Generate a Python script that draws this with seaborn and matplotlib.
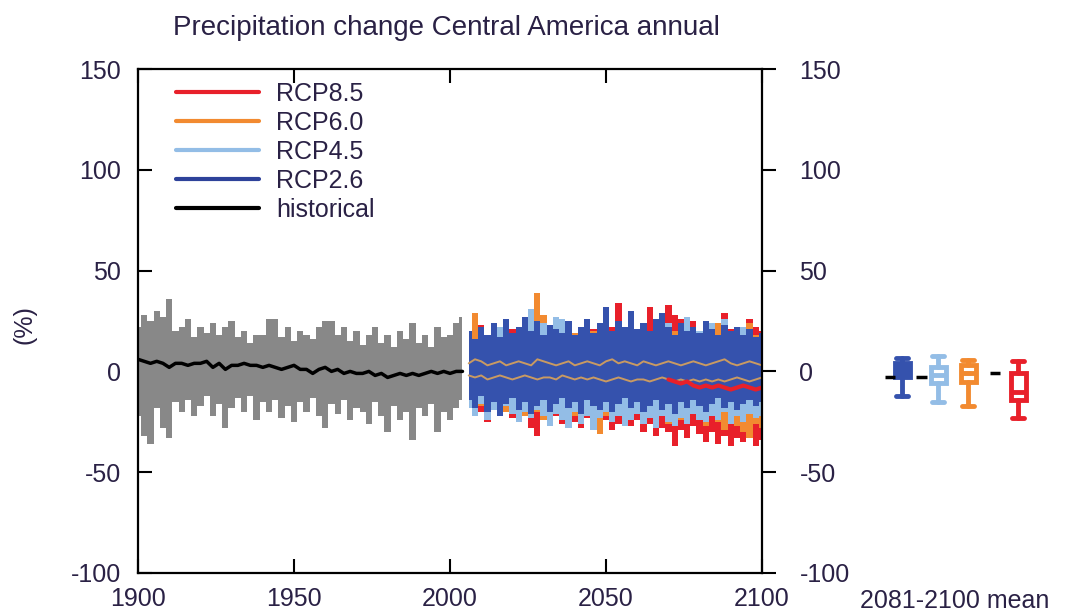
import numpy as np
import matplotlib
matplotlib.use("Agg")
import matplotlib.pyplot as plt
from matplotlib.lines import Line2D
import seaborn as sns

# ── DATA ──────────────────────────────────────────────────────────────────────
hist_years = list(range(1900, 2005, 2))
hist_upper = [22, 28, 25, 30, 27, 36, 20, 22, 26, 17, 22, 19, 24, 18, 22, 25, 17, 20,
              14, 18, 18, 26, 26, 17, 22, 15, 20, 18, 16, 22, 25, 25, 18, 22, 15, 20,
              13, 18, 22, 14, 18, 12, 20, 16, 24, 14, 18, 12, 22, 17, 18, 24, 27]
hist_lower = [-22, -32, -36, -18, -28, -33, -15, -20, -14, -22, -17, -12, -22, -16, -28,
              -18, -13, -20, -12, -24, -15, -20, -14, -23, -17, -25, -15, -20, -13, -22,
              -28, -16, -21, -14, -24, -18, -20, -26, -15, -22, -30, -17, -24, -20, -34,
              -18, -22, -16, -30, -20, -24, -18, -14]
hist_mean = [6, 5, 4, 5, 4, 2, 4, 4, 3, 4, 4, 5, 2, 4, 1, 3, 3, 4, 3, 3, 2, 3, 2, 1, 2,
             3, 1, 1, -1, 1, 2, 0, 1, -1, 0, -1, -1, 0, -2, -1, -3, -2, -1, -2, -1, -2,
             -1, 0, -1, 0, -1, 0, 0]

fut_years = list(range(2006, 2101, 2))
rcp26_upper = [20, 16, 22, 18, 24, 17, 26, 19, 22, 27, 20, 25, 18, 23, 21, 19, 25, 18,
               22, 26, 19, 24, 32, 20, 25, 22, 30, 21, 24, 20, 26, 29, 22, 18, 24, 20,
               22, 19, 25, 21, 18, 23, 20, 22, 18, 21, 17, 19]
rcp26_lower = [-14, -18, -12, -20, -15, -22, -16, -13, -19, -15, -21, -17, -14, -20, -16,
               -13, -18, -15, -21, -14, -17, -19, -15, -20, -16, -13, -18, -15, -20, -17,
               -14, -19, -16, -21, -15, -18, -14, -17, -20, -16, -13, -18, -15, -19, -16,
               -14, -17, -15]
rcp45_upper = [16, 14, 18, 15, 20, 22, 18, 16, 19, 20, 31, 20, 24, 18, 27, 26, 20, 16,
               19, 20, 15, 18, 20, 17, 19, 18, 21, 17, 20, 18, 19, 20, 24, 16, 19, 27,
               18, 20, 17, 24, 16, 26, 18, 17, 22, 16, 15, 18]
rcp45_lower = [-18, -22, -16, -24, -19, -20, -17, -21, -25, -20, -23, -19, -22, -27, -21,
               -24, -28, -20, -26, -22, -29, -23, -20, -25, -22, -27, -24, -21, -26, -23,
               -28, -22, -25, -27, -23, -26, -21, -24, -25, -22, -24, -20, -26, -22, -25,
               -21, -23, -22]
rcp60_upper = [18, 29, 15, 17, 14, 19, 16, 18, 15, 21, 17, 39, 28, 19, 25, 22, 17, 19,
               16, 18, 20, 15, 19, 17, 16, 20, 18, 15, 19, 17, 21, 16, 18, 20, 17, 19,
               22, 15, 18, 16, 24, 17, 19, 15, 22, 24, 18, 16]
rcp60_lower = [-15, -12, -17, -14, -18, -16, -20, -15, -18, -22, -17, -20, -24, -18, -21,
               -16, -19, -22, -18, -20, -24, -31, -22, -19, -21, -18, -23, -20, -25, -21,
               -18, -22, -26, -20, -24, -21, -19, -23, -27, -22, -25, -29, -24, -27, -30,
               -33, -26, -28]
rcp85_upper = [17, 15, 23, 18, 16, 19, 17, 21, 15, 18, 20, 16, 19, 17, 15, 18, 20, 16,
               19, 17, 21, 18, 20, 22, 34, 19, 18, 21, 20, 32, 22, 19, 33, 28, 26, 21,
               25, 20, 22, 19, 23, 29, 21, 20, 18, 26, 22, 20]
rcp85_lower = [-16, -22, -20, -25, -18, -21, -17, -23, -19, -22, -28, -32, -20, -24, -22,
               -26, -20, -25, -28, -23, -21, -27, -24, -29, -26, -23, -27, -24, -30, -26,
               -32, -28, -30, -37, -29, -33, -27, -31, -35, -30, -36, -32, -37, -33, -35,
               -31, -37, -34]
spread_hi = [4, 6, 5, 3, 4, 5, 3, 4, 5, 4, 3, 6, 5, 4, 3, 4, 5, 3, 4, 5, 4, 3, 5, 6, 4,
             5, 4, 3, 5, 4, 3, 4, 5, 4, 3, 4, 5, 4, 3, 4, 5, 6, 4, 3, 4, 5, 4, 3]
spread_lo = [-2, -3, -2, -4, -3, -2, -3, -4, -3, -2, -3, -4, -3, -3, -4, -2, -3, -4, -3,
             -4, -3, -4, -5, -4, -3, -4, -5, -4, -4, -5, -4, -3, -4, -5, -4, -5, -4, -5,
             -4, -5, -4, -5, -4, -3, -4, -5, -4, -3]
rcp85_mean_years = list(range(2070, 2101, 2))
rcp85_mean = [-4, -5, -6, -5, -7, -8, -7, -8, -7, -8, -9, -8, -7, -8, -9, -8]

# 2081-2100 mean: 5th, 25th, 50th, 75th, 95th percentiles
box_names = ["RCP2.6", "RCP4.5", "RCP6.0", "RCP8.5"]
box_p5 = [-12, -15, -17, -23]
box_p25 = [-3, -6, -5.5, -14]
box_p50 = [-1, -2, -1, -10]
box_p75 = [4, 2, 3, -1]
box_p95 = [6.5, 7.5, 5.5, 5]
hist_mark = [-3, -3, -1, -1]

# ── STYLE ─────────────────────────────────────────────────────────────────────
sns.set_theme(style="white")
plt.rcParams["font.family"] = ["Liberation Sans", "DejaVu Sans"]
plt.rcParams["axes.unicode_minus"] = False
TXT = "#2a2145"
C85, C60, C45, C26 = "#e8202a", "#f28a30", "#93bde6", "#3552ad"
GREY = "#888888"

fig = plt.figure(figsize=(10.73, 6.15), dpi=100)
W, H = 1073, 615
ax = fig.add_axes([138 / W, 1 - 573 / H, (762 - 138) / W, (573 - 69) / H])

# historical envelope and mean
ax.fill_between(hist_years, hist_lower, hist_upper, step="mid", color=GREY, lw=0)
sns.lineplot(x=hist_years, y=hist_mean, ax=ax, color="black", lw=2.5)

# scenario envelopes, back to front
for lo, hi, col in [(rcp85_lower, rcp85_upper, C85), (rcp60_lower, rcp60_upper, C60),
                    (rcp45_lower, rcp45_upper, C45), (rcp26_lower, rcp26_upper, C26)]:
    ax.fill_between(fut_years, lo, hi, step="mid", color=col, lw=0)
sns.lineplot(x=fut_years, y=spread_hi, ax=ax, color="#c99a62", lw=1.4)
sns.lineplot(x=fut_years, y=spread_lo, ax=ax, color="#c99a62", lw=1.4)
sns.lineplot(x=rcp85_mean_years, y=rcp85_mean, ax=ax, color=C85, lw=3)

ax.set_xlim(1900, 2100)
ax.set_ylim(-100, 150)
ax.set_xticks([1900, 1950, 2000, 2050, 2100])
ax.set_yticks([-100, -50, 0, 50, 100, 150])
ax.tick_params(axis="x", direction="in", length=10, width=1.5, top=True, bottom=True,
               labelsize=18, pad=10, colors="black", labelcolor=TXT)
ax.tick_params(axis="y", direction="in", length=10, width=1.5, left=True, right=False,
               labelsize=18, pad=12, colors="black", labelcolor=TXT)
for s in ax.spines.values():
    s.set_linewidth(1.6)
    s.set_color("black")

axr = ax.twinx()
axr.set_ylim(-100, 150)
axr.set_yticks([-100, -50, 0, 50, 100, 150])
axr.tick_params(axis="y", direction="out", length=10, width=1.5, right=True,
                labelsize=18, pad=17, colors="black", labelcolor=TXT)
axr.grid(False)
for s in axr.spines.values():
    s.set_visible(False)

handles = [Line2D([], [], color=c, lw=3) for c in [C85, C60, C45, "#2e429a", "black"]]
leg = ax.legend(handles, ["RCP8.5", "RCP6.0", "RCP4.5", "RCP2.6", "historical"],
                loc="upper left", bbox_to_anchor=(0.045, 0.995), frameon=False,
                fontsize=18, handlelength=3.3, handletextpad=0.7, labelspacing=0.2,
                borderaxespad=0)
for t in leg.get_texts():
    t.set_color(TXT)

fig.text(446 / W, 1 - 28 / H, "Precipitation change Central America annual",
         ha="center", va="center", fontsize=20, color=TXT)
fig.text(25 / W, 1 - 325 / H, "(%)", rotation=90, ha="center", va="center",
         fontsize=18, color=TXT)

# ── 2081-2100 MEAN BOXES ──────────────────────────────────────────────────────
axb = fig.add_axes([860 / W, 1 - 573 / H, 200 / W, (573 - 69) / H])
axb.set_xlim(860, 1060)
axb.set_ylim(-100, 150)
axb.axis("off")
box_pos = [902, 938, 968, 1018]
box_cols = [C26, C45, C60, C85]
stats = [dict(label=n, whislo=a, q1=b, med=c, q3=d, whishi=e)
         for n, a, b, c, d, e in zip(box_names, box_p5, box_p25, box_p50, box_p75, box_p95)]
for st, pos, col in zip(stats, box_pos, box_cols):
    fill = col if st["label"] == "RCP2.6" else "white"
    axb.bxp([st], positions=[pos], widths=15, capwidths=12, showfliers=False,
            patch_artist=True,
            boxprops=dict(facecolor=fill, edgecolor=col, lw=3.5),
            whiskerprops=dict(color=col, lw=3.5),
            capprops=dict(color=col, lw=3.5),
            medianprops=dict(color=col, lw=3.5))
axb.hlines(hist_mark, [885, 916, 964, 990], [895, 927, 971, 1000], color="black", lw=2.5)

fig.text(860 / W, 1 - 601 / H, "2081-2100 mean", ha="left", va="center",
         fontsize=18, color=TXT)

fig.savefig("out.png", dpi=100)
